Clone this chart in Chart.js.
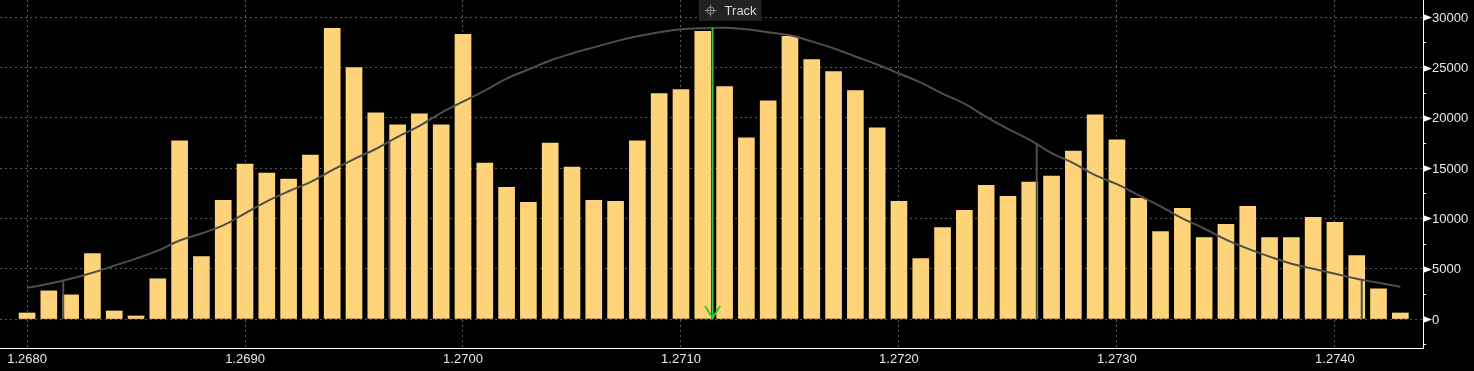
<!DOCTYPE html>
<html>
<head>
<meta charset="utf-8">
<script src="https://cdn.jsdelivr.net/npm/chart.js@4.4.0/dist/chart.umd.min.js"></script>
<style>
  html, body { margin: 0; padding: 0; background: #000; }
  #wrap { width: 1474px; height: 371px; position: relative; }
</style>
</head>
<body>
<div id="wrap"><canvas id="chart"></canvas></div>
<script>
// price levels (one bar each)
const prices = [
  1.2680, 1.2681, 1.2682, 1.2683, 1.2684, 1.2685, 1.2686, 1.2687, 1.2688, 1.2689,
  1.2690, 1.2691, 1.2692, 1.2693, 1.2694, 1.2695, 1.2696, 1.2697, 1.2698, 1.2699,
  1.2700, 1.2701, 1.2702, 1.2703, 1.2704, 1.2705, 1.2706, 1.2707, 1.2708, 1.2709,
  1.2710, 1.2711, 1.2712, 1.2713, 1.2714, 1.2715, 1.2716, 1.2717, 1.2718, 1.2719,
  1.2720, 1.2721, 1.2722, 1.2723, 1.2724, 1.2725, 1.2726, 1.2727, 1.2728, 1.2729,
  1.2730, 1.2731, 1.2732, 1.2733, 1.2734, 1.2735, 1.2736, 1.2737, 1.2738, 1.2739,
  1.2740, 1.2741, 1.2742, 1.2743,
];

// volume at each price
const volumes = [
  600, 2800, 2400, 6500, 800, 300, 4000, 17700, 6200, 11800,
  15400, 14500, 13900, 16300, 28900, 25000, 20500, 19300, 20400, 19300,
  28300, 15500, 13100, 11600, 17500, 15100, 11800, 11700, 17700, 22400,
  22800, 28600, 23100, 18000, 21700, 28100, 25800, 24600, 22700, 19000,
  11700, 6000, 9100, 10800, 13300, 12200, 13600, 14200, 16700, 20300,
  17800, 12000, 8700, 11000, 8100, 9400, 11200, 8100, 8100, 10100,
  9600, 6300, 3000, 600,
];

// distribution curve read at each price
const curve = [
  3100, 3500, 4000, 4600, 5300, 6000, 6800, 7800, 8500, 9300,
  10500, 11700, 12700, 13600, 14800, 15900, 16900, 18100, 19200, 20500,
  21600, 22700, 23900, 24800, 25700, 26400, 27000, 27600, 28100, 28500,
  28800, 28900, 28950, 28800, 28500, 28200, 27600, 26900, 26100, 25300,
  24400, 23500, 22400, 21400, 20100, 18900, 17800, 16500, 15500, 14300,
  13400, 12300, 11200, 10000, 9000, 7900, 7000, 6200, 5500, 5000,
  4500, 4000, 3600, 3200,
];

// std-dev markers and the mean (track) line
const sigmaPrices = [1.268166, 1.269662, 1.272632, 1.274123];
const sigmaTops = [3900, 17600, 17500, 3950];
const meanPrice = 1.271145;
const meanTop = 28950;

const xTicks = [1.2680, 1.2690, 1.2700, 1.2710, 1.2720, 1.2730, 1.2740];
const yTicks = [0, 5000, 10000, 15000, 20000, 25000, 30000];

const labelColor = '#e4eaf0';
const gridColor = '#5a5a5a';
const fontFamily = 'Liberation Sans, Arial, sans-serif';

const datasets = [
  {
    type: 'line',
    data: prices.map((p, i) => ({ x: p, y: curve[i] })),
    borderColor: '#4e4e4e',
    borderWidth: 2,
    pointRadius: 0,
    tension: 0.4,
    order: 1,
  },
  ...sigmaPrices.map((p, i) => ({
    type: 'line',
    data: [{ x: p, y: 0 }, { x: p, y: sigmaTops[i] }],
    borderColor: '#4e4e4e',
    borderWidth: 2,
    pointRadius: 0,
    order: 1,
  })),
  {
    type: 'line',
    data: [{ x: meanPrice, y: 0 }, { x: meanPrice, y: meanTop }],
    borderColor: '#33c433',
    borderWidth: 2,
    pointRadius: 0,
    order: 0,
  },
  {
    type: 'bar',
    data: prices.map((p, i) => ({ x: p, y: volumes[i] })),
    backgroundColor: '#ffd37a',
    borderWidth: 0,
    barThickness: 16,
    order: 2,
  },
];

// y labels with arrows, minor ticks, track arrow head and label
const extras = {
  id: 'extras',
  afterDraw(chart) {
    const ctx = chart.ctx;
    const x = chart.scales.x;
    const y = chart.scales.y;
    const right = chart.chartArea.right;
    ctx.save();

    ctx.fillStyle = '#ffffff';
    ctx.strokeStyle = '#ffffff';
    ctx.lineWidth = 1;
    for (let v = -2500; v <= 30000; v += 2500) {
      const py = Math.round(y.getPixelForValue(v)) + 0.5;
      if (v % 5000 === 0) {
        ctx.beginPath();
        ctx.moveTo(right, py - 3.5);
        ctx.lineTo(right + 9, py);
        ctx.lineTo(right, py + 3.5);
        ctx.closePath();
        ctx.fill();
      } else {
        ctx.beginPath();
        ctx.moveTo(right, py);
        ctx.lineTo(right + 3, py);
        ctx.stroke();
      }
    }
    ctx.fillStyle = labelColor;
    ctx.font = '13px ' + fontFamily;
    ctx.textBaseline = 'middle';
    ctx.textAlign = 'left';
    yTicks.forEach(v => {
      ctx.fillText(String(v), right + 9, y.getPixelForValue(v) + 1);
    });

    // arrow head of the track line
    const mx = x.getPixelForValue(meanPrice);
    const my = y.getPixelForValue(0);
    ctx.strokeStyle = '#33c433';
    ctx.lineWidth = 2;
    ctx.beginPath();
    ctx.moveTo(mx - 7.5, my - 13);
    ctx.lineTo(mx, my - 1);
    ctx.lineTo(mx + 7.5, my - 13);
    ctx.stroke();

    // track label
    ctx.fillStyle = '#222222';
    ctx.fillRect(mx - 14, 0, 63, 21);
    const cx = mx - 2, cy = 10.5;
    ctx.strokeStyle = '#8a8a8a';
    ctx.lineWidth = 1;
    ctx.beginPath();
    ctx.arc(cx, cy, 3.5, 0, Math.PI * 2);
    ctx.moveTo(cx - 6, cy); ctx.lineTo(cx + 6, cy);
    ctx.moveTo(cx, cy - 6); ctx.lineTo(cx, cy + 6);
    ctx.stroke();
    ctx.fillStyle = '#d4d8dc';
    ctx.fillText('Track', mx + 12, 11);

    ctx.restore();
  },
};

new Chart(document.getElementById('chart'), {
  type: 'bar',
  data: { datasets },
  options: {
    responsive: true,
    maintainAspectRatio: false,
    animation: false,
    layout: { padding: 0 },
    plugins: { legend: { display: false }, tooltip: { enabled: false } },
    scales: {
      x: {
        type: 'linear',
        min: 1.267876,
        max: 1.274404,
        offset: false,
        afterFit: s => { s.height = 23; },
        afterBuildTicks: s => {
          s.ticks = xTicks.map(v => ({ value: v }));
          s.min = 1.267876;
          s.max = 1.274404;
        },
        grid: { color: gridColor, offset: false, drawTicks: false },
        border: { color: '#ffffff', width: 1, dash: [2, 3] },
        ticks: {
          color: labelColor,
          font: { family: fontFamily, size: 13 },
          padding: 4,
          callback: v => v.toFixed(4),
        },
      },
      y: {
        position: 'right',
        min: -2880,
        max: 31710,
        afterFit: s => { s.width = 51; },
        afterBuildTicks: s => {
          s.ticks = yTicks.map(v => ({ value: v }));
          s.min = -2880;
          s.max = 31710;
        },
        grid: { color: gridColor, drawTicks: false },
        border: { color: '#ffffff', width: 1, dash: [2, 3] },
        ticks: { display: false },
      },
    },
  },
  plugins: [extras],
});
</script>
</body>
</html>
